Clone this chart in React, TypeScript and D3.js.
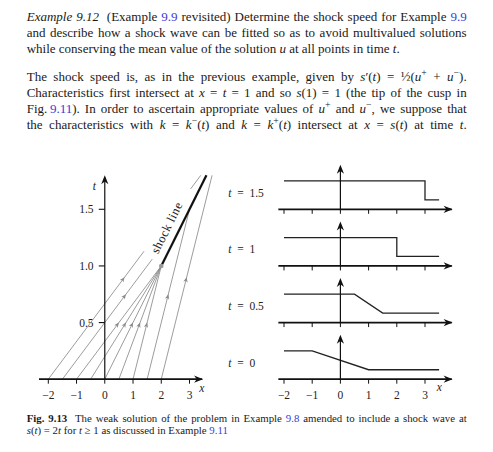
import React, { useEffect, useRef } from "react";
import * as d3 from "d3";

type Seg = [string, string];

// ---------- text content ----------
const bodyLines: Seg[][] = [
  [["Example 9.12", "i"], ["  (Example ", ""], ["9.9", "l"], [" revisited) Determine the shock speed for Example ", ""], ["9.9", "l"]],
  [["and describe how a shock wave can be fitted so as to avoid multivalued solutions", ""]],
  [["while conserving the mean value of the solution ", ""], ["u", "i"], [" at all points in time ", ""], ["t", "i"], [".", ""]],
  [["The shock speed is, as in the previous example, given by ", ""], ["s", "i"], ["′(", ""], ["t", "i"], [") = ½(", ""], ["u", "i"], ["+", "sup"], [" + ", ""], ["u", "i"], ["−", "sup"], [").", ""]],
  [["Characteristics first intersect at ", ""], ["x", "i"], [" = ", ""], ["t", "i"], [" = 1 and so ", ""], ["s", "i"], ["(1) = 1 (the tip of the cusp in", ""]],
  [["Fig.\u2009", ""], ["9.11", "l"], ["). In order to ascertain appropriate values of ", ""], ["u", "i"], ["+", "sup"], [" and ", ""], ["u", "i"], ["−", "sup"], [", we suppose that", ""]],
  [["the characteristics with ", ""], ["k", "i"], [" = ", ""], ["k", "i"], ["−", "sup"], ["(", ""], ["t", "i"], [") and ", ""], ["k", "i"], [" = ", ""], ["k", "i"], ["+", "sup"], ["(", ""], ["t", "i"], [") intersect at ", ""], ["x", "i"], [" = ", ""], ["s", "i"], ["(", ""], ["t", "i"], [") at time ", ""], ["t", "i"], [".", ""]],
];
const bodyBaselines = [21, 37, 53, 81, 97, 113, 129];
const bodyJustify = [true, true, false, true, true, true, true];

const captionLines: Seg[][] = [
  [["Fig. 9.13", "b"], ["  The weak solution of the problem in Example ", ""], ["9.8", "l"], [" amended to include a shock wave at", ""]],
  [["s", "i"], ["(", ""], ["t", "i"], [") = 2", ""], ["t", "i"], [" for ", ""], ["t", "i"], [" ≥ 1 as discussed in Example ", ""], ["9.11", "l"]],
];
const captionBaselines = [422, 434];
const captionJustify = [true, false];

// ---------- chart data ----------
const xTicks = [-2, -1, 0, 1, 2, 3];
const xTickLabels = ["−2", "−1", "0", "1", "2", "3"];
const tTicks = [0.5, 1.0, 1.5];
const tTickLabels = ["0.5", "1.0", "1.5"];

// characteristics x = x0 + speed * t
const charX0 = [-2, -1.5, -1, -0.5, 0, 0.5, 1, 1.5, 2];
const charSpeed = [3, 3, 3, 2.5, 2, 1.5, 1, 1, 1];
const charSegments: number[][][] = [
  [[0, 1.13], [1.68, 1.8]],
  [[0, 1.06]],
  [[0, 1]],
  [[0, 1]],
  [[0, 1]],
  [[0, 1]],
  [[0, 1]],
  [[0, 1.5]],
  [[0, 1.8]],
];
const charArrowT = [0.9, 0.75, 0.5, 0.5, 0.5, 0.5, 0.5, 0.75, 0.9];

const shockX0 = 2;
const shockT0 = 1;
const shockSpeed = 2;
const shockT1 = 1.8;

// right panels: solution profiles u(x, t)
const panelTimes = [1.5, 1, 0.5, 0];
const panelLabels = ["1.5", "1", "0.5", "0"];
const profileX = [
  [-2, 3, 3, 3.5],
  [-2, 2, 2, 3.5],
  [-2, 0.5, 1.5, 3.5],
  [-2, -1, 1, 3.5],
];
const profileU = [
  [3, 3, 1, 1],
  [3, 3, 1, 1],
  [3, 3, 1, 1],
  [3, 3, 1, 1],
];

// ---------- styles ----------
const W = 493;
const H = 452;
const LINK = "#3a3ad6";
const TEXT = "#1a1a1a";
const BODY_FONT = "'Liberation Serif', 'Times New Roman', serif";
const FIG_FONT = "'Liberation Serif', serif";
const BODY_FS = 13;
const CAP_FS = 10.8;
const TEXT_X0 = 26.7;
const TEXT_X1 = 466.7;
const GRAY = "#8a8a8a";
const FIG_FS = 11.5;

const xL = d3.scaleLinear().domain([-2, 3]).range([48.3, 189.5]);
const tL = d3.scaleLinear().domain([0, 1.5]).range([379.2, 209.3]);
const xR = d3.scaleLinear().domain([-2, 3]).range([284, 425]);
const uR = d3.scaleLinear().domain([0, 3]).range([0, 28.4]);

const ARROW = "M0,0 L-9,-3.6 L-6.3,0 L-9,3.6 Z";
const SMALL_ARROW = "M0,0 L-5,-2.2 L-3.6,0 L-5,2.2 Z";

function renderSegs(segs: Seg[], fs: number) {
  let shift = 0;
  return segs.map(([s, st], i) => {
    const isSup = st === "sup";
    const target = isSup ? -fs * 0.36 : 0;
    const dy = target - shift;
    shift = target;
    return (
      <tspan
        key={i}
        dy={dy !== 0 ? dy : undefined}
        fontStyle={st === "i" ? "italic" : undefined}
        fontWeight={st === "b" ? "bold" : undefined}
        fill={st === "l" ? LINK : undefined}
        fontSize={isSup ? fs * 0.75 : undefined}
      >
        {s}
      </tspan>
    );
  });
}

export default function App() {
  const ref = useRef<SVGSVGElement>(null);

  useEffect(() => {
    if (!ref.current) return;
    d3.select(ref.current)
      .selectAll<SVGTextElement, unknown>("text.just")
      .each(function () {
        const el = this;
        el.style.wordSpacing = "0px";
        const w = el.getComputedTextLength();
        const target = TEXT_X1 - TEXT_X0;
        const n = ((el.textContent || "").match(/ /g) || []).length;
        if (n > 0) el.style.wordSpacing = `${(target - w) / n}px`;
      });
  }, []);

  const ux = xL(1) - xL(0);
  const ut = tL(0) - tL(1);
  const y0 = tL(0);
  const x0 = xL(0);

  const charAngle = (s: number) => (Math.atan2(-ut, s * ux) * 180) / Math.PI;
  const shockAngle = charAngle(shockSpeed);
  const shockLabelT = 1.29;
  const sx = xL(shockX0 + shockSpeed * (shockLabelT - shockT0));
  const sy = tL(shockLabelT);
  const nrm = [Math.sin((-shockAngle * Math.PI) / 180), Math.cos((-shockAngle * Math.PI) / 180)];
  const lblX = sx - 8 * nrm[0];
  const lblY = sy - 8 * nrm[1];

  const profileLine = d3
    .line<[number, number]>()
    .x((d) => xR(d[0]))
    .y((d) => d[1]);

  return (
    <svg
      ref={ref}
      width={W}
      height={H}
      viewBox={`0 0 ${W} ${H}`}
      style={{ position: "absolute", left: 0, top: 0, background: "#fff" }}
    >
      <rect x={0} y={0} width={W} height={H} fill="#fff" />

      {/* body text */}
      <g fontFamily={BODY_FONT} fontSize={BODY_FS} fill={TEXT}>
        {bodyLines.map((segs, i) => (
          <text
            key={i}
            className={bodyJustify[i] ? "just" : undefined}
            x={TEXT_X0}
            y={bodyBaselines[i]}
            style={{ whiteSpace: "pre" }}
          >
            {renderSegs(segs, BODY_FS)}
          </text>
        ))}
      </g>

      {/* caption */}
      <g fontFamily={BODY_FONT} fontSize={CAP_FS} fill={TEXT}>
        {captionLines.map((segs, i) => (
          <text
            key={i}
            className={captionJustify[i] ? "just" : undefined}
            x={TEXT_X0}
            y={captionBaselines[i]}
            style={{ whiteSpace: "pre" }}
          >
            {renderSegs(segs, CAP_FS)}
          </text>
        ))}
      </g>

      {/* ---------- left chart ---------- */}
      <g fontFamily={FIG_FONT} fontSize={FIG_FS} fill="#222">
        {tTicks.map((t, i) => (
          <text key={i} x={93.5} y={tL(t) + 4} textAnchor="end">
            {tTickLabels[i]}
          </text>
        ))}
        {xTicks.map((x, i) => (
          <text key={i} x={xL(x)} y={399} textAnchor="middle">
            {xTickLabels[i]}
          </text>
        ))}
        <text x={96} y={190} textAnchor="end" fontStyle="italic">
          t
        </text>
        <text x={199.3} y={391.7} fontStyle="italic">
          x
        </text>
      </g>

      {/* characteristics */}
      <g stroke={GRAY} strokeWidth={0.85} fill="none">
        {charX0.map((c, i) =>
          charSegments[i].map((seg, j) => (
            <line
              key={`${i}-${j}`}
              x1={xL(c + charSpeed[i] * seg[0])}
              y1={tL(seg[0])}
              x2={xL(c + charSpeed[i] * seg[1])}
              y2={tL(seg[1])}
            />
          ))
        )}
      </g>
      <g fill={GRAY}>
        {charX0.map((c, i) => (
          <path
            key={i}
            d={SMALL_ARROW}
            transform={`translate(${xL(c + charSpeed[i] * charArrowT[i])},${tL(charArrowT[i])}) rotate(${charAngle(charSpeed[i])})`}
          />
        ))}
      </g>

      {/* left axes */}
      <g stroke="#111" fill="none">
        <line x1={xL(-2.33)} y1={y0} x2={xL(3.45)} y2={y0} strokeWidth={1.7} />
        <line x1={x0} y1={y0} x2={x0} y2={tL(1.78)} strokeWidth={1.2} />
        {xTicks.map((x, i) => (
          <line key={i} x1={xL(x)} y1={y0} x2={xL(x)} y2={y0 + 4.5} strokeWidth={1} />
        ))}
        {tTicks.map((t, i) => (
          <line key={i} x1={x0 - 6} y1={tL(t)} x2={x0} y2={tL(t)} strokeWidth={1.1} />
        ))}
      </g>
      <g fill="#111">
        <path d={ARROW} transform={`translate(${xL(3.48)},${y0})`} />
        <path d={ARROW} transform={`translate(${x0},${tL(1.8)}) rotate(-90)`} />
      </g>

      {/* shock line */}
      <line
        x1={xL(shockX0)}
        y1={tL(shockT0)}
        x2={xL(shockX0 + shockSpeed * (shockT1 - shockT0))}
        y2={tL(shockT1)}
        stroke="#111"
        strokeWidth={2.2}
      />
      <circle cx={xL(shockX0)} cy={tL(shockT0)} r={2.3} fill="#999" />
      <text
        x={lblX}
        y={lblY}
        textAnchor="middle"
        fontFamily={FIG_FONT}
        fontSize={12.5}
        letterSpacing={0.5}
        fill="#222"
        transform={`rotate(${shockAngle},${lblX},${lblY})`}
      >
        shock line
      </text>

      {/* ---------- right panels ---------- */}
      {panelTimes.map((T, p) => {
        const by = tL(T);
        const pts: [number, number][] = profileX[p].map((x, k) => [x, by - uR(profileU[p][k])]);
        return (
          <g key={p}>
            <text x={228.3} y={by - 12.5} fontFamily={FIG_FONT} fontSize={FIG_FS} fill="#222" style={{ whiteSpace: "pre" }}>
              <tspan fontStyle="italic">t</tspan>
              {"\u2002=\u2002" + panelLabels[p]}
            </text>
            <path d={profileLine(pts) || ""} fill="none" stroke="#222" strokeWidth={1.3} />
            <line x1={xR(-2.2)} y1={by} x2={xR(3.95)} y2={by} stroke="#111" strokeWidth={1.7} />
            {xTicks.map((x, i) => (
              <line key={i} x1={xR(x)} y1={by} x2={xR(x)} y2={by + 4.5} stroke="#111" strokeWidth={1} />
            ))}
            <line x1={xR(0)} y1={by} x2={xR(0)} y2={by - 42} stroke="#111" strokeWidth={1.2} />
            <path d={ARROW} fill="#111" transform={`translate(${xR(3.98)},${by})`} />
            <path d={ARROW} fill="#111" transform={`translate(${xR(0)},${by - 44.5}) rotate(-90)`} />
          </g>
        );
      })}
      <g fontFamily={FIG_FONT} fontSize={FIG_FS} fill="#222">
        {xTicks.map((x, i) => (
          <text key={i} x={xR(x)} y={399} textAnchor="middle">
            {xTickLabels[i]}
          </text>
        ))}
        <text x={436.7} y={391} fontStyle="italic">
          x
        </text>
      </g>
    </svg>
  );
}
